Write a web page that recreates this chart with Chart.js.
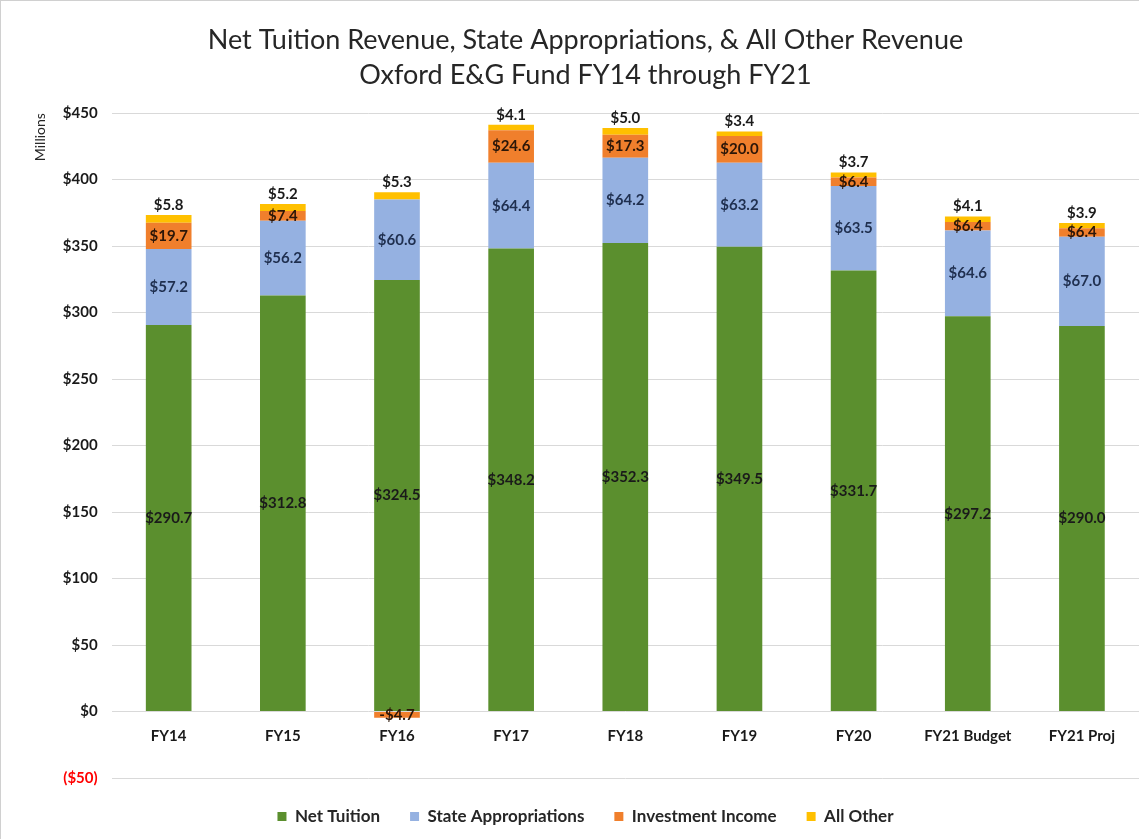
<!DOCTYPE html>
<html>
<head>
<meta charset="utf-8">
<script src="https://cdn.jsdelivr.net/npm/chart.js@4"></script>
<style>
  html, body { margin: 0; padding: 0; background: #fff; }
  #wrap { position: relative; width: 1139px; height: 839px; box-sizing: border-box; border-left: 1px solid #d0d0d0; border-top: 1px solid #d0d0d0; }
</style>
</head>
<body>
<div id="wrap"><canvas id="revenueChart"></canvas></div>
<script>
// values in $ millions
const years = ['FY14', 'FY15', 'FY16', 'FY17', 'FY18', 'FY19', 'FY20', 'FY21 Budget', 'FY21 Proj'];
const netTuition = [290.7, 312.8, 324.5, 348.2, 352.3, 349.5, 331.7, 297.2, 290.0];
const stateApprop = [57.2, 56.2, 60.6, 64.4, 64.2, 63.2, 63.5, 64.6, 67.0];
const investIncome = [19.7, 7.4, -4.7, 24.6, 17.3, 20.0, 6.4, 6.4, 6.4];
const allOther = [5.8, 5.2, 5.3, 4.1, 5.0, 3.4, 3.7, 4.1, 3.9];
const yTicks = [-50, 0, 50, 100, 150, 200, 250, 300, 350, 400, 450];

const fontFam = 'Lato, "Open Sans", sans-serif';

function money(v) {
    const s = '$' + Math.abs(v).toFixed(1);
    return v < 0 ? '-' + s : s;
}

// draws the value labels like Excel does (centre for stacks, outside end for the top one)
const barLabels = {
    id: 'barLabels',
    afterDatasetsDraw(chart) {
        const ctx = chart.ctx;
        ctx.save();
        ctx.font = 'bold 15px ' + fontFam;
        ctx.textAlign = 'center';
        ctx.textBaseline = 'middle';
        chart.data.datasets.forEach((ds, i) => {
            const meta = chart.getDatasetMeta(i);
            meta.data.forEach((bar, j) => {
                const v = ds.data[j];
                let y;
                if (i === 3) {
                    y = bar.y - 10;
                } else {
                    y = (bar.y + bar.base) / 2;
                }
                ctx.fillStyle = ds.labelColor;
                ctx.fillText(money(v), bar.x, y);
            });
        });
        ctx.restore();
    }
};

new Chart(document.getElementById('revenueChart'), {
    type: 'bar',
    data: {
        labels: years,
        datasets: [
            { label: 'Net Tuition', data: netTuition, backgroundColor: '#5b8f2e', labelColor: '#1a1a1a' },
            { label: 'State Appropriations', data: stateApprop, backgroundColor: '#95b1e1', labelColor: '#1f2f4f' },
            { label: 'Investment Income', data: investIncome, backgroundColor: '#f07f2c', labelColor: '#2b1608' },
            { label: 'All Other', data: allOther, backgroundColor: '#ffc000', labelColor: '#1a1a1a' }
        ]
    },
    options: {
        responsive: true,
        maintainAspectRatio: false,
        animation: false,
        layout: { padding: { left: 31, right: 0, top: 0, bottom: 4 } },
        datasets: {
            bar: { categoryPercentage: 1.0, barPercentage: 0.4 }
        },
        plugins: {
            title: {
                display: true,
                text: ['Net Tuition Revenue, State Appropriations, & All Other Revenue', 'Oxford E&G Fund FY14 through FY21'],
                color: '#262626',
                font: { family: fontFam, size: 27, weight: 'normal', lineHeight: 1.28 },
                padding: { top: 22, bottom: 21 }
            },
            legend: {
                position: 'bottom',
                labels: {
                    boxWidth: 9,
                    boxHeight: 9,
                    padding: 30,
                    color: '#262626',
                    font: { family: fontFam, size: 17, weight: 'bold' }
                }
            },
            tooltip: { enabled: false }
        },
        scales: {
            x: {
                stacked: true,
                position: { y: 0 },
                grid: { display: false },
                border: { display: false },
                ticks: {
                    color: '#1a1a1a',
                    padding: 8,
                    font: { family: fontFam, size: 15, weight: 'bold' }
                }
            },
            y: {
                stacked: true,
                min: -50,
                max: 450,
                afterBuildTicks(axis) {
                    axis.ticks = yTicks.map(v => ({ value: v }));
                },
                grid: { color: '#d9d9d9', drawTicks: false },
                border: { display: false },
                title: {
                    display: true,
                    text: 'Millions',
                    align: 'end',
                    color: '#262626',
                    font: { family: fontFam, size: 14 },
                    padding: { top: 0, bottom: 0 }
                },
                ticks: {
                    padding: 14,
                    color: c => (c.tick && c.tick.value < 0 ? '#ff0000' : '#1a1a1a'),
                    font: { family: fontFam, size: 15, weight: 'bold' },
                    callback: v => (v < 0 ? '($' + (-v) + ')' : '$' + v)
                }
            }
        }
    },
    plugins: [barLabels]
});
</script>
</body>
</html>
